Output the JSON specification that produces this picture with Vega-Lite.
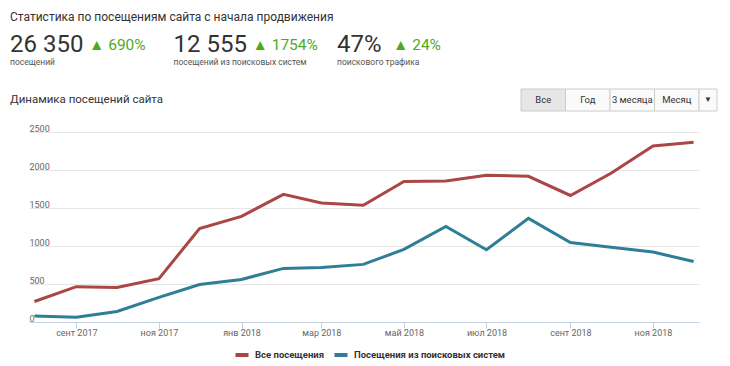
{
  "$schema": "https://vega.github.io/schema/vega-lite/v6.json",
  "background": "white",
  "padding": {"left": 10, "top": 11, "right": 0, "bottom": 0},
  "config": {
    "font": "Roboto",
    "view": {"stroke": null}
  },
  "title": {
    "text": "Статистика по посещениям сайта с начала продвижения",
    "anchor": "start",
    "fontSize": 12,
    "fontWeight": "normal",
    "color": "#333333",
    "offset": 6
  },
  "spacing": 12,
  "vconcat": [
    {
      "width": 308,
      "height": 46,
      "data": {
        "values": [
          {"label": "посещений", "value": "26 350", "change": "▲ 690%"},
          {"label": "посещений из поисковых систем", "value": "12 555", "change": "▲ 1754%"},
          {"label": "поискового трафика", "value": "47%", "change": "▲ 24%"}
        ]
      },
      "encoding": {
        "x": {
          "field": "label",
          "type": "nominal",
          "sort": null,
          "axis": null,
          "scale": {
            "type": "point",
            "padding": 0,
            "range": [-19, 308],
            "domain": ["посещений", "посещений из поисковых систем", "поискового трафика"]
          }
        }
      },
      "layer": [
        {
          "mark": {"type": "text", "align": "left", "baseline": "alphabetic", "dy": -1, "fontSize": 24, "color": "#333333"},
          "encoding": {"text": {"field": "value"}}
        },
        {
          "transform": [{"filter": "datum.label !== 'поискового трафика'"}],
          "mark": {"type": "text", "align": "left", "baseline": "alphabetic", "dx": 79, "dy": -3, "fontSize": 15.5, "color": "#4dab1b"},
          "encoding": {"text": {"field": "change"}}
        },
        {
          "transform": [{"filter": "datum.label === 'поискового трафика'"}],
          "mark": {"type": "text", "align": "left", "baseline": "alphabetic", "dx": 56, "dy": -3, "fontSize": 15.5, "color": "#4dab1b"},
          "encoding": {"text": {"field": "change"}}
        },
        {
          "mark": {"type": "text", "align": "left", "baseline": "alphabetic", "dy": 12, "fontSize": 8.5, "color": "#555555"},
          "encoding": {"text": {"field": "label"}}
        }
      ]
    },
    {
      "width": 688,
      "height": 22,
      "layer": [
        {
          "data": {"values": [{"button": "Все"}, {"button": "Год"}, {"button": "3 месяца"}, {"button": "Месяц"}]},
          "encoding": {
            "x": {
              "field": "button",
              "type": "nominal",
              "sort": null,
              "axis": null,
              "scale": {"type": "band", "paddingInner": 0, "paddingOuter": 0, "domain": ["Все", "Год", "3 месяца", "Месяц"], "range": [492, 670]}
            }
          },
          "layer": [
            {
              "mark": {"type": "bar", "stroke": "#cccccc", "strokeWidth": 1},
              "encoding": {
                "fill": {"condition": {"test": "datum.button === 'Все'", "value": "#e6e6e6"}, "value": "#fafafa"}
              }
            },
            {
              "mark": {"type": "text", "fontSize": 9.5, "color": "#333333", "baseline": "middle"},
              "encoding": {"text": {"field": "button"}}
            }
          ]
        },
        {
          "data": {"values": [{"button": "▼"}]},
          "encoding": {
            "x": {
              "field": "button",
              "type": "nominal",
              "axis": null,
              "scale": {"type": "band", "paddingInner": 0, "paddingOuter": 0, "range": [670, 688]}
            }
          },
          "layer": [
            {"mark": {"type": "bar", "stroke": "#cccccc", "strokeWidth": 1, "fill": "#fafafa"}},
            {
              "mark": {"type": "text", "fontSize": 8, "color": "#333333", "baseline": "middle"},
              "encoding": {"text": {"field": "button"}}
            }
          ]
        },
        {
          "data": {"values": [{"caption": "Динамика посещений сайта"}]},
          "mark": {"type": "text", "align": "left", "baseline": "middle", "fontSize": 11.5, "color": "#333333"},
          "encoding": {
            "x": {"field": "caption", "type": "nominal", "axis": null, "scale": {"type": "point", "padding": 0, "align": 0, "range": [-19, 0]}},
            "text": {"field": "caption"}
          }
        }
      ],
      "resolve": {"scale": {"x": "independent"}}
    },
    {
      "width": 670,
      "height": 190,
      "data": {
        "values": [
          {"date": "2017-08-01", "series": "Все посещения", "value": 270},
          {"date": "2017-09-01", "series": "Все посещения", "value": 465},
          {"date": "2017-10-01", "series": "Все посещения", "value": 455},
          {"date": "2017-11-01", "series": "Все посещения", "value": 570},
          {"date": "2017-12-01", "series": "Все посещения", "value": 1230},
          {"date": "2018-01-01", "series": "Все посещения", "value": 1390},
          {"date": "2018-02-01", "series": "Все посещения", "value": 1680},
          {"date": "2018-03-01", "series": "Все посещения", "value": 1565},
          {"date": "2018-04-01", "series": "Все посещения", "value": 1535},
          {"date": "2018-05-01", "series": "Все посещения", "value": 1850},
          {"date": "2018-06-01", "series": "Все посещения", "value": 1855},
          {"date": "2018-07-01", "series": "Все посещения", "value": 1930},
          {"date": "2018-08-01", "series": "Все посещения", "value": 1917},
          {"date": "2018-09-01", "series": "Все посещения", "value": 1665},
          {"date": "2018-10-01", "series": "Все посещения", "value": 1957},
          {"date": "2018-11-01", "series": "Все посещения", "value": 2315},
          {"date": "2018-12-01", "series": "Все посещения", "value": 2366},
          {"date": "2017-08-01", "series": "Посещения из поисковых систем", "value": 80},
          {"date": "2017-09-01", "series": "Посещения из поисковых систем", "value": 63},
          {"date": "2017-10-01", "series": "Посещения из поисковых систем", "value": 138},
          {"date": "2017-11-01", "series": "Посещения из поисковых систем", "value": 323},
          {"date": "2017-12-01", "series": "Посещения из поисковых систем", "value": 494},
          {"date": "2018-01-01", "series": "Посещения из поисковых систем", "value": 560},
          {"date": "2018-02-01", "series": "Посещения из поисковых систем", "value": 705},
          {"date": "2018-03-01", "series": "Посещения из поисковых систем", "value": 718},
          {"date": "2018-04-01", "series": "Посещения из поисковых систем", "value": 758},
          {"date": "2018-05-01", "series": "Посещения из поисковых систем", "value": 955},
          {"date": "2018-06-01", "series": "Посещения из поисковых систем", "value": 1258},
          {"date": "2018-07-01", "series": "Посещения из поисковых систем", "value": 951},
          {"date": "2018-08-01", "series": "Посещения из поисковых систем", "value": 1364},
          {"date": "2018-09-01", "series": "Посещения из поисковых систем", "value": 1047},
          {"date": "2018-10-01", "series": "Посещения из поисковых систем", "value": 985},
          {"date": "2018-11-01", "series": "Посещения из поисковых систем", "value": 920},
          {"date": "2018-12-01", "series": "Посещения из поисковых систем", "value": 797}
        ]
      },
      "mark": {"type": "line", "strokeWidth": 3},
      "encoding": {
        "x": {
          "field": "date",
          "type": "temporal",
          "scale": {
            "type": "utc",
            "domain": [
              {"year": 2017, "month": 7, "date": 28, "utc": true},
              {"year": 2018, "month": 12, "date": 5, "utc": true}
            ]
          },
          "axis": {
            "title": null,
            "grid": false,
            "domainColor": "#c5d3e2",
            "tickColor": "#c5d3e2",
            "tickSize": 6,
            "labelColor": "#666666",
            "labelFontSize": 9,
            "labelPadding": 0,
            "labelFlush": false,
            "labelOverlap": false,
            "tickCount": {"interval": "month", "step": 2},
            "labelExpr": "['янв','фев','мар','апр','май','июн','июл','авг','сент','окт','ноя','дек'][utcmonth(datum.value)] + ' ' + utcyear(datum.value)"
          }
        },
        "y": {
          "field": "value",
          "type": "quantitative",
          "scale": {"domain": [0, 2500], "nice": false},
          "axis": {
            "title": null,
            "values": [0, 500, 1000, 1500, 2000, 2500],
            "format": "d",
            "grid": true,
            "gridColor": "#e6e6e6",
            "domain": false,
            "ticks": false,
            "labelAlign": "left",
            "labelBaseline": "alphabetic",
            "labelPadding": 0,
            "labelOffset": -1,
            "labelColor": "#666666",
            "labelFontSize": 9,
            "minExtent": 19
          }
        },
        "color": {
          "field": "series",
          "type": "nominal",
          "scale": {
            "domain": ["Все посещения", "Посещения из поисковых систем"],
            "range": ["#aa4643", "#2f7e98"]
          },
          "legend": {
            "orient": "none",
            "legendX": 204,
            "legendY": 316,
            "title": null,
            "direction": "horizontal",
            "symbolType": "stroke",
            "symbolStrokeWidth": 4,
            "symbolSize": 170,
            "labelFontWeight": "bold",
            "labelFontSize": 9.5,
            "labelColor": "#333333",
            "columnPadding": 1
          }
        }
      }
    }
  ]
}
